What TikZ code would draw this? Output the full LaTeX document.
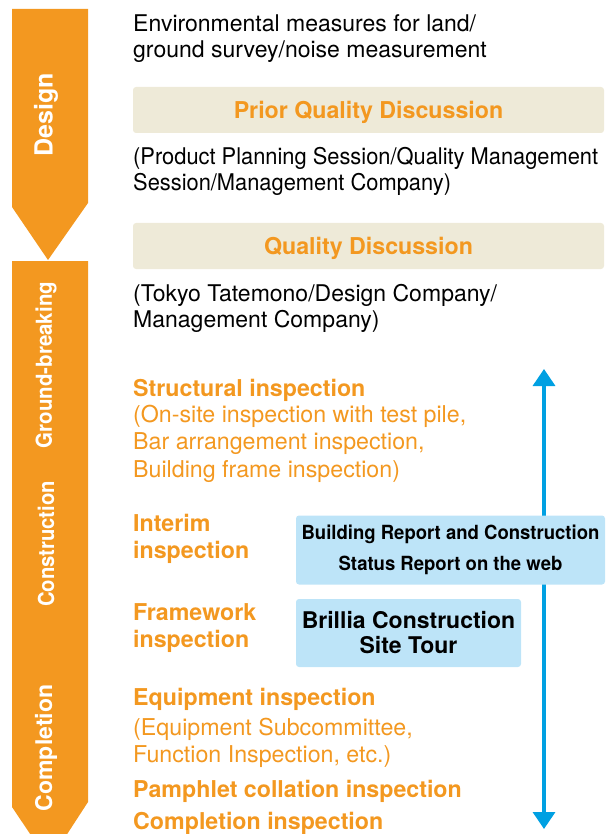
\documentclass[tikz,border=0pt]{standalone}
\usepackage{fontspec}
\setmainfont{TeX Gyre Heros}
\usepackage{xcolor}
\usetikzlibrary{arrows.meta}
\definecolor{stageorange}{RGB}{243,152,32}
\definecolor{discbeige}{RGB}{238,234,216}
\definecolor{reportblue}{RGB}{189,228,248}
\definecolor{tourblue}{RGB}{0,160,226}

\begin{document}
\begin{tikzpicture}[x=1pt,y=-1pt,
	plain/.style={anchor=north west, inner sep=0pt, align=left, font=\fontsize{23}{26}\selectfont},
	check/.style={plain, text=stageorange, font=\fontsize{23.2}{27.5}\selectfont\bfseries},
	checknote/.style={plain, text=stageorange, font=\fontsize{23.2}{27.3}\selectfont},
	disc/.style={fill=discbeige, rounded corners=3pt, minimum width=471pt, minimum height=46pt, inner sep=0pt, text height=16.5pt, text depth=0pt, text=stageorange, font=\fontsize{23.2}{27}\selectfont\bfseries},
	report/.style={fill=reportblue, rounded corners=3pt, inner sep=0pt, align=center},
	stagename/.style={rotate=90, text=white, font=\fontsize{22}{26}\selectfont\bfseries}]
						\useasboundingbox (0,0) rectangle (614,834);
						\clip (0,0) rectangle (614,834);
						
						\coordinate (D1) at (12,9);
						\coordinate (D2) at (88,9);
						\coordinate (D3) at (88,203);
						\coordinate (D4) at (48,260);
						\coordinate (D5) at (12,207);
						\coordinate (G1) at (12,261);
						\coordinate (G2) at (88,261);
						\coordinate (G3) at (88,802);
						\coordinate (G4) at (49,862);
						\coordinate (G5) at (12,807);
						\coordinate (T1) at (544,369);
						\coordinate (T2) at (544,829);
						
						\fill[stageorange] (D1) -- (D2) -- (D3) -- (D4) -- (D5) -- cycle;
						\fill[stageorange] (G1) -- (G2) -- (G3) -- (G4) -- (G5) -- cycle;
						
						\node[stagename, font=\fontsize{25}{29}\selectfont\bfseries] (design) at (46,115) {Design};
						\node[stagename] (ground) at (46,365) {\scalebox{0.93}[1]{Ground-breaking}};
						\node[stagename] (constr) at (46,544) {\scalebox{0.92}[1]{Construction}};
						\node[stagename, font=\fontsize{23}{27}\selectfont\bfseries] (compl) at (46,748) {Completion};
						
						\draw[tourblue, line width=3.5pt, {Triangle[width=22pt,length=17pt]}-{Triangle[width=22pt,length=17pt]}] (T1) -- (T2);
						
						\node[plain] (env) at (133,14) {Environmental measures for land/\\ground survey/noise measurement};
						\node[disc] (prior) at (368.5,110) {Prior Quality Discussion};
						\node[plain] (prod) at (133,147) {\scalebox{0.95}[1]{(Product Planning Session/Quality Management}\\\scalebox{0.95}[1]{Session/Management Company)}};
						\node[disc] (qual) at (368.5,246) {Quality Discussion};
						\node[plain] (tokyo) at (133,284) {(Tokyo Tatemono/Design Company/\\Management Company)};
						
						\node[check] (struct) at (133,379) {Structural inspection};
						\node[checknote] (structnote) at (133,405) {(On-site inspection with test pile,\\Bar arrangement inspection,\\Building frame inspection)};
						\node[check] (interim) at (133,514) {Interim\\inspection};
						\node[check] (frame) at (133,603) {Framework\\inspection};
						\node[check] (equip) at (133,688) {Equipment inspection};
						\node[checknote] (equipnote) at (133,718) {(Equipment Subcommittee,\\Function Inspection, etc.)};
						\node[check] (pamph) at (133,780) {Pamphlet collation inspection};
						\node[check] (complins) at (133,812) {Completion inspection};
						
						\node[report, minimum width=309pt, minimum height=69pt, font=\fontsize{19.5}{31}\selectfont\bfseries] (web) at (450.5,550) {\scalebox{0.95}[1]{Building Report and Construction}\\\scalebox{0.95}[1]{Status Report on the web}};
						\node[report, minimum width=225pt, minimum height=68pt, font=\fontsize{23}{25}\selectfont\bfseries] (tour) at (408.5,633) {Brillia Construction\\Site Tour};
					\end{tikzpicture}
\end{document}
